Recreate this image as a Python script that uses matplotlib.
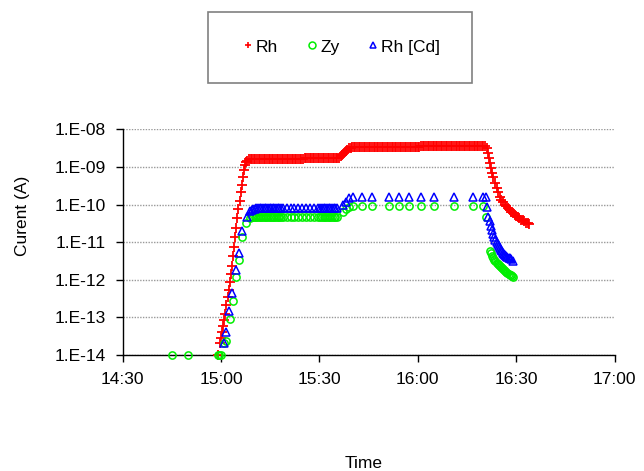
import matplotlib
matplotlib.use("Agg")
import matplotlib.pyplot as plt
import numpy as np
from matplotlib.patches import Rectangle
from matplotlib.lines import Line2D

plt.rcParams['font.family'] = ['Liberation Sans', 'DejaVu Sans']

# time in minutes after 15:00, current given as log10(A)
rh_t = [-0.8, -0.3, 0.0, 0.33, 0.67, 1.0, 1.33, 1.67, 2.0, 2.33, 2.67, 3.0, 3.33, 3.67, 4.0,
        4.33, 4.67, 5.0, 5.33, 5.67, 6.0, 6.33, 6.67, 7.0, 7.33, 7.67, 8.0, 8.5, 9.0,
        9.5, 10.0, 10.5, 11.0, 11.5, 12.0, 12.5, 13.0, 13.5, 14.0, 14.5, 15.0,
        15.5, 16.0, 16.5, 17.0, 17.5, 18.0, 18.5, 19.0, 19.5, 20.0, 20.5, 21.0, 21.5, 22.0,
        22.5, 23.0, 23.5, 24.0, 24.5, 25.0,
        25.5, 26.0, 26.5, 27.0, 27.5, 28.0, 28.5, 29.0, 29.5, 30.0, 30.5, 31.0, 31.5, 32.0,
        32.5, 33.0, 33.5, 34.0, 34.5, 35.0, 35.5,
        36.0, 36.5, 37.0, 37.5, 38.0, 38.5, 39.0, 39.5, 40.0, 40.5,
        41.0, 41.5, 42.0, 42.5, 43.0, 43.5, 44.0, 44.5, 45.0, 45.5, 46.0, 46.5, 47.0, 47.5,
        48.0, 48.5, 49.0, 49.5, 50.0, 50.5, 51.0, 51.5, 52.0, 52.5, 53.0, 53.5, 54.0, 54.5,
        55.0, 55.5, 56.0, 56.5, 57.0, 57.5, 58.0, 58.5, 59.0, 59.5, 60.0, 60.5,
        61.0, 61.5, 62.0, 62.5, 63.0, 63.5, 64.0, 64.5, 65.0, 65.5, 66.0, 66.5, 67.0, 67.5,
        68.0, 68.5, 69.0, 69.5, 70.0, 70.5, 71.0, 71.5, 72.0, 72.5, 73.0, 73.5, 74.0, 74.5,
        75.0, 75.5, 76.0, 76.5, 77.0, 77.5, 78.0, 78.5, 79.0, 79.5, 80.0, 80.5,
        81.0, 81.33, 81.67, 82.0, 82.33, 82.67, 83.0, 83.5, 84.0, 84.5, 85.0, 85.5, 86.0,
        86.5, 87.0, 87.5, 88.0, 88.5, 89.0, 89.5, 90.0, 90.5, 91.0, 91.5, 92.0, 92.5, 93.0,
        93.5, 94.0]
rh_log = [-14.0, -13.69, -13.55, -13.40, -13.24, -13.08, -12.90, -12.68, -12.47, -12.26,
          -12.05, -11.84, -11.63, -11.37, -11.12, -10.87, -10.62, -10.37, -10.12, -9.90,
          -9.68, -9.47, -9.26, -9.07, -8.95, -8.87, -8.83, -8.80, -8.79,
          -8.79, -8.79, -8.79, -8.79, -8.79, -8.79, -8.79, -8.79, -8.79, -8.79, -8.79, -8.79,
          -8.78, -8.78, -8.78, -8.78, -8.78, -8.78, -8.78, -8.78, -8.78, -8.78,
          -8.78, -8.78, -8.78, -8.78, -8.78, -8.78, -8.78, -8.78, -8.78, -8.78,
          -8.77, -8.77, -8.77, -8.77, -8.77, -8.77, -8.77, -8.77, -8.77, -8.77, -8.77,
          -8.77, -8.77, -8.77, -8.77, -8.77, -8.77, -8.77, -8.77, -8.77, -8.77,
          -8.75, -8.72, -8.68, -8.63, -8.59, -8.55, -8.51, -8.49, -8.47, -8.46,
          -8.46, -8.46, -8.46, -8.46, -8.46, -8.46, -8.46, -8.46, -8.46, -8.46,
          -8.46, -8.46, -8.46, -8.46, -8.46, -8.46, -8.46, -8.46, -8.46, -8.46,
          -8.46, -8.46, -8.46, -8.46, -8.46, -8.46, -8.46, -8.46, -8.46, -8.46,
          -8.46, -8.46, -8.46, -8.46, -8.46, -8.46, -8.46, -8.46, -8.46, -8.46,
          -8.45, -8.45, -8.45, -8.45, -8.45, -8.45, -8.45, -8.45, -8.45, -8.45,
          -8.45, -8.45, -8.45, -8.45, -8.45, -8.45, -8.45, -8.45, -8.45, -8.45,
          -8.45, -8.45, -8.45, -8.45, -8.45, -8.45, -8.45, -8.45, -8.45, -8.45,
          -8.45, -8.45, -8.45, -8.45, -8.45, -8.45, -8.45, -8.45, -8.45, -8.45,
          -8.50, -8.62, -8.76, -8.90, -9.03, -9.15, -9.27, -9.42, -9.56, -9.68, -9.79,
          -9.87, -9.94, -10.00, -10.05, -10.10, -10.15, -10.19, -10.23, -10.27, -10.30,
          -10.34, -10.37, -10.40, -10.42, -10.45, -10.48, -10.50, -10.53]

zy_t = [-15.0, -10.0, -0.9, -0.5, 0.0, 1.0, 1.5, 2.6, 3.6, 4.6, 5.6, 6.3, 7.6,
        8.8, 9.3, 9.8, 10.3, 10.8, 11.3, 11.8, 12.3, 12.8, 13.3, 13.8, 14.3, 14.8, 15.3,
        15.8, 16.3, 16.8, 17.3, 17.8, 18.3, 18.8,
        20.0, 21.2, 22.4, 23.6, 24.8, 26.0, 27.2, 28.4, 29.6,
        30.3, 30.8, 31.3, 31.8, 32.3, 32.8, 33.3, 33.8, 34.3, 34.8, 35.3,
        37.3, 38.1, 39.1, 40.3, 42.9, 46.1, 51.2, 54.3, 57.3, 60.9, 65.0, 70.9, 76.9, 79.8,
        80.8, 82.0, 82.33, 82.67, 83.0, 83.33, 83.67, 84.0, 84.33, 84.67, 85.0, 85.33,
        85.67, 86.0, 86.33, 86.67, 87.0, 87.33, 87.67, 88.0, 88.33, 88.67, 89.0]
zy_log = [-14.0, -14.0, -14.0, -14.0, -14.0, -13.69, -13.62, -13.03, -12.56, -11.92,
          -11.47, -10.85, -10.48,
          -10.36, -10.34, -10.33, -10.33, -10.33, -10.33, -10.33, -10.33, -10.33, -10.33,
          -10.33, -10.33, -10.33, -10.33, -10.33, -10.33, -10.33, -10.33, -10.33, -10.33,
          -10.33,
          -10.33, -10.33, -10.33, -10.33, -10.33, -10.33, -10.33, -10.33, -10.33,
          -10.33, -10.33, -10.33, -10.33, -10.33, -10.33, -10.33, -10.33, -10.33, -10.33,
          -10.33,
          -10.19, -10.13, -10.06, -10.04, -10.04, -10.04, -10.04, -10.04, -10.04, -10.04,
          -10.04, -10.04, -10.04, -10.04,
          -10.34, -11.23, -11.30, -11.36, -11.42, -11.47, -11.51, -11.55, -11.58, -11.61,
          -11.64, -11.67, -11.70, -11.72, -11.75, -11.77, -11.80, -11.82, -11.84, -11.86,
          -11.88, -11.90, -11.93]

cd_t = [1.0, 1.5, 2.5, 3.4, 4.6, 5.5, 6.4, 7.8, 8.8,
        9.3, 9.8, 10.3, 10.8, 11.3, 11.8, 12.3, 12.8, 13.3, 13.8, 14.3, 14.8, 15.3,
        15.8, 16.3, 16.8, 17.3, 17.8, 18.3, 18.8,
        20.0, 21.2, 22.4, 23.6, 24.8, 26.0, 27.2, 28.4, 29.6,
        30.3, 30.8, 31.3, 31.8, 32.3, 32.8, 33.3, 33.8, 34.3, 34.8, 35.3,
        37.3, 38.1, 39.1, 40.3, 42.9, 46.1, 51.2, 54.3, 57.3, 60.9, 65.0, 70.9, 76.9, 79.8,
        80.7,
        81.0, 81.5, 82.0, 82.33, 82.67, 83.0, 83.33, 83.67, 84.0, 84.33, 84.67, 85.0,
        85.33, 85.67, 86.0, 86.33, 86.67, 87.0, 87.33, 87.67, 88.0, 88.33, 88.9]
cd_log = [-13.69, -13.40, -12.82, -12.34, -11.74, -11.28, -10.70, -10.34, -10.17,
          -10.14, -10.12, -10.11, -10.10, -10.10, -10.10, -10.10, -10.10, -10.10, -10.10,
          -10.10, -10.10, -10.10, -10.10, -10.10, -10.10, -10.10, -10.10, -10.10, -10.10,
          -10.10, -10.10, -10.10, -10.10, -10.10, -10.10, -10.10, -10.10, -10.10,
          -10.10, -10.10, -10.10, -10.10, -10.10, -10.10, -10.10, -10.10, -10.10, -10.10,
          -10.10,
          -10.01, -9.92, -9.83, -9.81, -9.79, -9.79, -9.79, -9.79, -9.79, -9.79, -9.79,
          -9.80, -9.80, -9.80, -9.80,
          -10.06, -10.32, -10.45, -10.58, -10.68, -10.78, -10.86, -10.93, -11.00, -11.05,
          -11.10, -11.15, -11.20, -11.24, -11.28, -11.31, -11.34, -11.37, -11.39, -11.41,
          -11.43, -11.45, -11.50]

series_names = ["Rh", "Zy", "Rh [Cd]"]
x_ticks = [-30, 0, 30, 60, 90, 120]
x_tick_labels = ["14:30", "15:00", "15:30", "16:00", "16:30", "17:00"]
y_ticks = [1e-14, 1e-13, 1e-12, 1e-11, 1e-10, 1e-09, 1e-08]
y_tick_labels = ["1.E-14", "1.E-13", "1.E-12", "1.E-11", "1.E-10", "1.E-09", "1.E-08"]

W, H = 644, 471
fig = plt.figure(figsize=(W / 100, H / 100), dpi=100)
x0, x1, ytop, ybot = 122.6, 614.6, 129.3, 355.0
ax = fig.add_axes([x0 / W, 1 - ybot / H, (x1 - x0) / W, (ybot - ytop) / H])

fs = 12.5
l1, = ax.plot(rh_t, 10 ** np.array(rh_log), linestyle='none', marker='+',
              markersize=6.5, markeredgewidth=1.3, color='#FF0000', clip_on=False, zorder=3)
l2, = ax.plot(zy_t, 10 ** np.array(zy_log), linestyle='none', marker='o',
              markersize=5.2, markeredgewidth=1.1, markerfacecolor='none',
              markeredgecolor='#00EE00', clip_on=False, zorder=4)
l3, = ax.plot(cd_t, 10 ** np.array(cd_log), linestyle='none', marker='^',
              markersize=5.6, markeredgewidth=1.1, markerfacecolor='none',
              markeredgecolor='#0000FF', clip_on=False, zorder=5)

ax.set_yscale('log')
ax.set_ylim(1e-14, 1e-8)
ax.set_xlim(-30, 120)
ax.yaxis.set_major_locator(matplotlib.ticker.FixedLocator(y_ticks))
ax.yaxis.set_minor_locator(matplotlib.ticker.NullLocator())
ax.set_yticklabels(y_tick_labels)
ax.set_xticks(x_ticks)
ax.set_xticklabels(x_tick_labels)
ax.tick_params(axis='both', direction='out', length=5, width=1, labelsize=fs, pad=7,
               colors='black')
ax.yaxis.grid(True, linestyle=(0, (1, 1)), color='#999999', linewidth=1.0)
ax.set_axisbelow(True)
for s in ['top', 'right']:
    ax.spines[s].set_visible(False)
for s in ['left', 'bottom']:
    ax.spines[s].set_color('black')
    ax.spines[s].set_linewidth(1.0)

fig.text(23 / W, 1 - 216 / H, "Curent (A)", rotation=90, ha='center', va='center', fontsize=fs)
fig.text(364 / W, 1 - 463 / H, "Time", ha='center', va='center', fontsize=fs)

# legend
box_l, box_r, box_t, box_b = 208, 472, 11.7, 82.7
fig.patches.append(Rectangle((box_l / W, 1 - box_b / H), (box_r - box_l) / W, (box_b - box_t) / H,
                             transform=fig.transFigure, facecolor='white', edgecolor='#808080',
                             linewidth=1.2))
h1 = Line2D([], [], linestyle='none', marker='+', markersize=5, markeredgewidth=1.2, color='#FF0000')
h2 = Line2D([], [], linestyle='none', marker='o', markersize=5, markeredgewidth=1.1,
            markerfacecolor='none', markeredgecolor='#00EE00')
h3 = Line2D([], [], linestyle='none', marker='^', markersize=5, markeredgewidth=1.1,
            markerfacecolor='none', markeredgecolor='#0000FF')
fig.legend([h1, h2, h3], series_names, loc='center', bbox_to_anchor=(341 / W, 1 - 47 / H),
           ncol=3, frameon=False, fontsize=fs, handlelength=0.7, handletextpad=0.12,
           columnspacing=1.6)

fig.savefig("out.png", dpi=100)
